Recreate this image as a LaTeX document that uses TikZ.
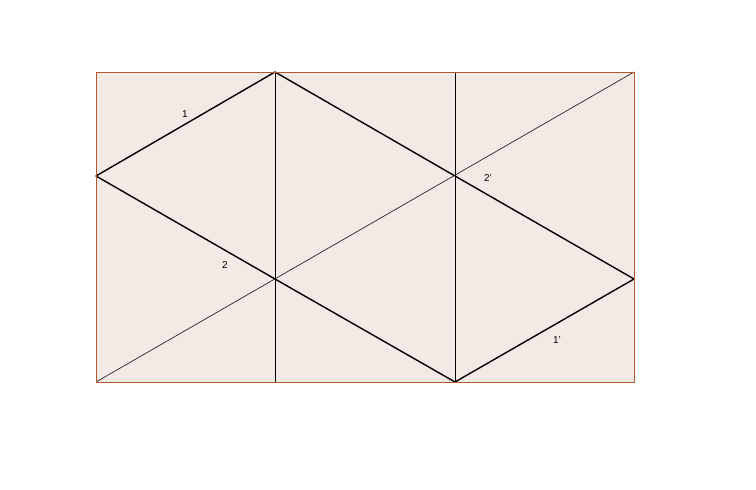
\documentclass[tikz,border=0pt]{standalone}
\usepackage{fontspec}
\setmainfont{Liberation Sans}
\definecolor{frame}{HTML}{B8582E}
\definecolor{paper}{HTML}{F3EAE6}
\tikzset{
  thickline/.style={draw=black, line width=1.4pt, line join=round},
  thinline/.style={draw=black, line width=0.9pt},
  diagline/.style={draw=black!85, line width=0.7pt},
  lbl/.style={font=\fontsize{10}{12}\selectfont, text=black, inner sep=1pt}
}
\begin{document}
\begin{tikzpicture}[x=1pt,y=-1pt]
\useasboundingbox (0,0) rectangle (756,490);
\coordinate (TL) at (96,72);
\coordinate (TR) at (634,72);
\coordinate (BL) at (96,382);
\coordinate (BR) at (634,382);
\coordinate (A) at (96,176);
\coordinate (B) at (275,72);
\coordinate (C) at (275,279);
\coordinate (D) at (455,176);
\coordinate (E) at (455,382);
\coordinate (F) at (634,279);
\coordinate (G) at (455,72);
\coordinate (H) at (275,382);
\fill[paper] (TL) rectangle (BR);
% verticals
\draw[thinline] (B) -- (H);
\draw[thinline] (G) -- (E);
% diagonal
\draw[diagline] (BL) -- (TR);
% thick lines
\draw[thickline] (A) -- (B) -- (D) -- (F) -- (E) -- (C) -- cycle;
\draw[frame, line width=1pt] (TL) rectangle (BR);
\node[lbl] (l1) at (185,114) {1};
\node[lbl] (l2) at (225,265) {2};
\node[lbl] (l2p) at (488,178) {2'};
\node[lbl] (l1p) at (557,340) {1'};
\end{tikzpicture}
\end{document}
